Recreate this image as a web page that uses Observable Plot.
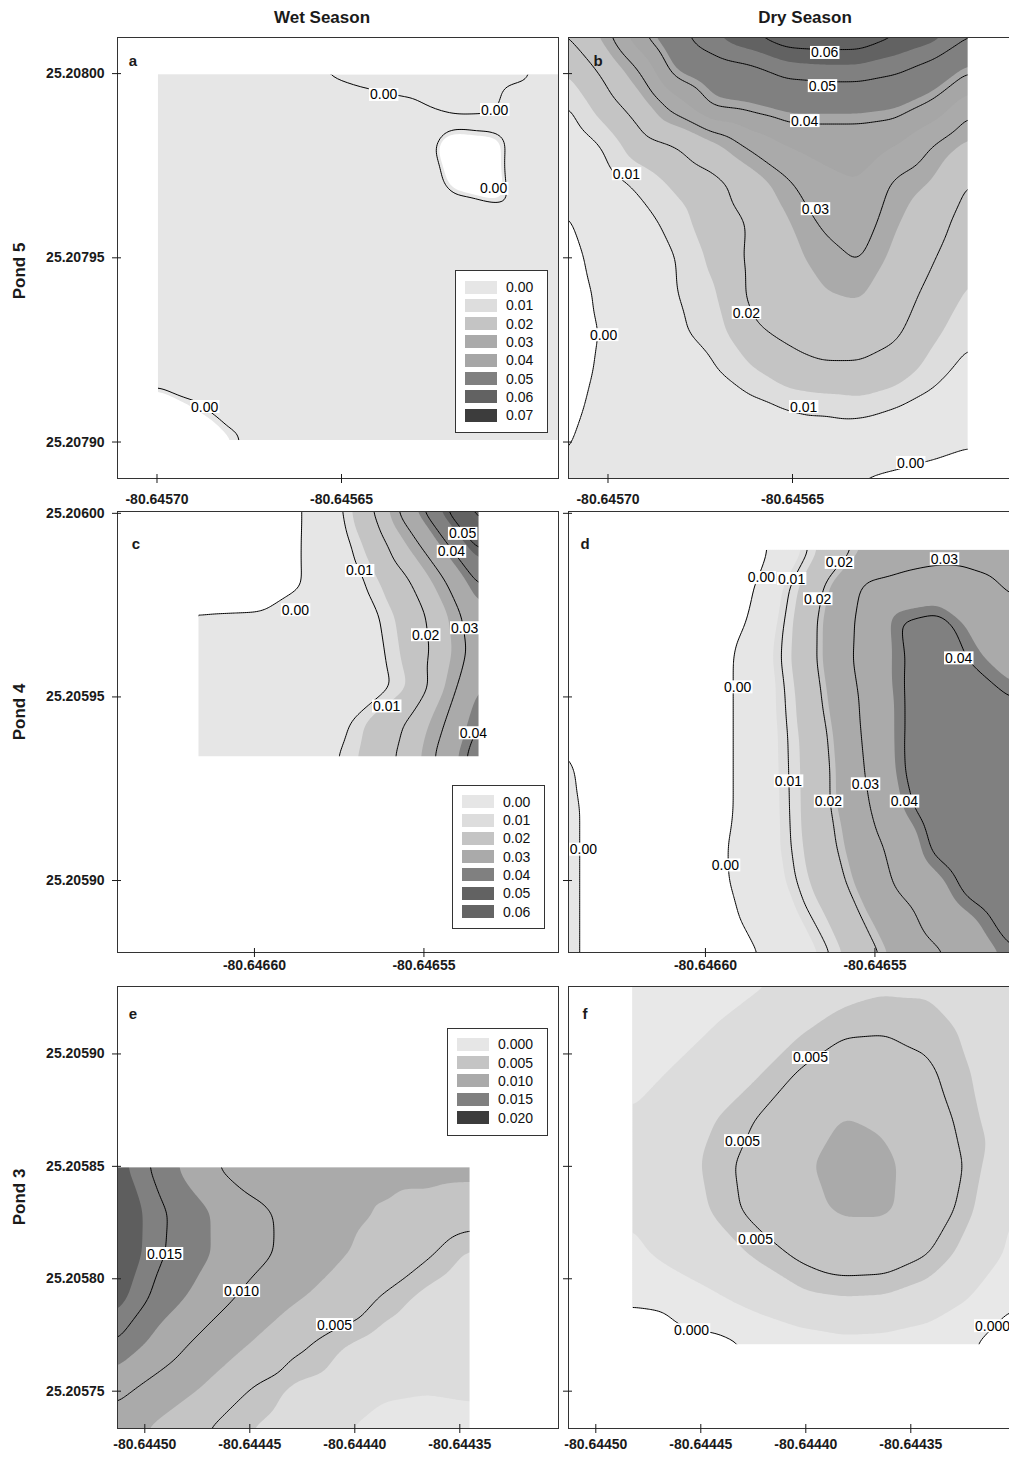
<!DOCTYPE html>
<html><head><meta charset="utf-8">
<script src="https://cdn.jsdelivr.net/npm/d3@7"></script>
<script src="https://cdn.jsdelivr.net/npm/@observablehq/plot@0.6"></script>
<style>
html,body{margin:0;padding:0;background:#fff;overflow:hidden}
#page{position:relative;width:1009px;height:1458px;font-family:"Liberation Sans",Arial,sans-serif;color:#1a1a1a;overflow:hidden}
.abs{position:absolute}
.title{font-weight:bold;font-size:17px;transform:translate(-50%,-50%);white-space:nowrap}
.rowlab{font-weight:bold;font-size:17px;transform:translate(-50%,-50%) rotate(-90deg);white-space:nowrap}
.letter{font-weight:bold;font-size:15px;transform:translate(-50%,-50%)}
.legend{border:1px solid #333;background:#fff;box-sizing:border-box}
.legend .row{position:absolute;left:0;display:flex;align-items:center;height:18px}
.sw{width:32px;height:13px;margin-left:9px}
.lt{margin-left:9px;font-size:14px;color:#111}
</style></head>
<body><div id="page"></div>
<script>
// ---------- axis domains & ticks (per pond row) ----------
const pond5XDomain = [-80.6457107, -80.6455912];
const pond5YDomain = [25.2078901, 25.2080098];
const pond5XTicks = [-80.64570, -80.64565];
const pond5YTicks = [25.20790, 25.20795, 25.20800];

const pond4XDomain = [-80.6466404, -80.6465103];
const pond4YDomain = [25.2058804, 25.2060005];
const pond4XTicks = [-80.64660, -80.64655];
const pond4YTicks = [25.20590, 25.20595, 25.20600];

const pond3XDomain = [-80.644513, -80.644303];
const pond3YDomain = [25.2057334, 25.20593];
const pond3XTicks = [-80.64450, -80.64445, -80.64440, -80.64435];
const pond3YTicks = [25.20575, 25.20580, 25.20585, 25.20590];

// ---------- legend levels & greys ----------
const legend5Levels = [0.00, 0.01, 0.02, 0.03, 0.04, 0.05, 0.06, 0.07];
const legend5Colors = ["#e6e6e6", "#dddddd", "#c4c4c4", "#aaaaaa", "#a6a6a6", "#808080", "#626262", "#3c3c3c"];
const legend4Levels = [0.00, 0.01, 0.02, 0.03, 0.04, 0.05, 0.06];
const legend4Colors = ["#e6e6e6", "#dddddd", "#c4c4c4", "#aaaaaa", "#808080", "#626262", "#646464"];
const legend3Levels = [0.000, 0.005, 0.010, 0.015, 0.020];
const legend3Colors = ["#e6e6e6", "#c4c4c4", "#aaaaaa", "#808080", "#3c3c3c"];

// ---------- Pond 5, wet season (a) ----------
const wet5GridX = [-80.64570, -80.64559];
const wet5GridY = [25.20800, 25.20790];
const wet5Grid = [
  [0.004, 0.004, 0.0035, 0.003, 0.0012, 0.0006, 0.0003, 0.0002, 0.0002, 0.0002, 0.0006, 0.003],
  [0.004, 0.004, 0.004, 0.0035, 0.003, 0.0025, 0.0018, 0.0014, 0.0004, 0.0005, 0.0025, 0.0035],
  [0.004, 0.004, 0.004, 0.004, 0.0045, 0.005, 0.006, 0.007, -0.005, -0.003, 0.006, 0.004],
  [0.004, 0.004, 0.004, 0.004, 0.0045, 0.005, 0.006, 0.007, -0.001, -0.004, 0.007, 0.004],
  [0.004, 0.004, 0.004, 0.004, 0.004, 0.0045, 0.005, 0.006, 0.006, 0.006, 0.005, 0.004],
  [0.004, 0.0045, 0.0045, 0.0045, 0.0045, 0.004, 0.004, 0.004, 0.0045, 0.0045, 0.004, 0.0035],
  [0.0045, 0.0045, 0.005, 0.005, 0.0045, 0.0045, 0.004, 0.004, 0.004, 0.004, 0.004, 0.004],
  [0.005, 0.005, 0.0045, 0.005, 0.005, 0.0045, 0.0045, 0.004, 0.004, 0.004, 0.004, 0.004],
  [0.0056, 0.005, 0.0045, 0.0045, 0.005, 0.005, 0.0045, 0.0045, 0.004, 0.004, 0.004, 0.004],
  [-0.004, 0.0005, 0.004, 0.0045, 0.0045, 0.005, 0.005, 0.0045, 0.0045, 0.004, 0.004, 0.004],
  [-0.008, -0.005, -0.0003, 0.005, 0.0045, 0.0045, 0.005, 0.005, 0.0045, 0.0045, 0.004, 0.004]
];
const wet5Extra = [
  [-80.6456232, 25.2079852, 0.003], [-80.6456164, 25.2079852, 0.0025],
  [-80.6456096, 25.2079852, 0.0025], [-80.6456028, 25.2079852, 0.0035],
  [-80.6456150, 25.2079752, -0.008]
];
const wet5FillLevels = [0, 0.01, 0.014, 0.0265, 0.035, 0.042, 0.055, 0.07];
const wet5LineLevels = [0.001];
const wet5Labels = [
  [-80.6456386, 25.2079942, "0.00"], [-80.6456085, 25.2079901, "0.00"],
  [-80.6456088, 25.2079687, "0.00"], [-80.6456871, 25.2079095, "0.00"]
];

// ---------- Pond 5, dry season (b) ----------
const dry5GridX = [-80.6457115, -80.645602];
const dry5GridY = [25.208011, 25.207889];
const dry5Grid = [
  [0.020, 0.028, 0.039, 0.048, 0.055, 0.060, 0.065, 0.0655, 0.0655, 0.061, 0.058, 0.051],
  [0.014, 0.021, 0.030, 0.042, 0.046, 0.048, 0.052, 0.053, 0.053, 0.051, 0.047, 0.040],
  [0.0091, 0.016, 0.023, 0.032, 0.040, 0.041, 0.043, 0.043, 0.043, 0.042, 0.038, 0.031],
  [0.0056, 0.0102, 0.017, 0.020, 0.025, 0.031, 0.035, 0.036, 0.036, 0.035, 0.030, 0.025],
  [0.0023, 0.0075, 0.011, 0.015, 0.018, 0.023, 0.029, 0.034, 0.035, 0.029, 0.026, 0.0195],
  [-0.001, 0.005, 0.008, 0.012, 0.017, 0.0205, 0.026, 0.031, 0.033, 0.027, 0.023, 0.017],
  [-0.003, 0.003, 0.006, 0.010, 0.015, 0.021, 0.025, 0.028, 0.0305, 0.025, 0.0205, 0.015],
  [-0.004, 0.0015, 0.005, 0.0098, 0.013, 0.021, 0.023, 0.026, 0.027, 0.023, 0.018, 0.013],
  [-0.004, 0.0005, 0.004, 0.0095, 0.011, 0.019, 0.021, 0.023, 0.023, 0.021, 0.015, 0.011],
  [-0.003, 0.001, 0.004, 0.007, 0.0095, 0.013, 0.0175, 0.019, 0.019, 0.017, 0.012, 0.008],
  [-0.002, 0.002, 0.004, 0.006, 0.007, 0.0085, 0.010, 0.011, 0.012, 0.010, 0.008, 0.004],
  [-0.0006, 0.003, 0.004, 0.005, 0.005, 0.006, 0.007, 0.006, 0.005, 0.004, 0.002, 0.0003],
  [0.001, 0.004, 0.004, 0.004, 0.004, 0.004, 0.005, 0.002, -0.0005, -0.002, -0.003, -0.004]
];
const dry5FillLevels = [0, 0.01, 0.014, 0.0265, 0.035, 0.042, 0.055, 0.07];
const dry5LineLevels = [0, 0.01, 0.02, 0.03, 0.04, 0.05, 0.06];
const dry5Labels = [
  [-80.6456413, 25.2080056, "0.06"], [-80.6456419, 25.2079966, "0.05"],
  [-80.6456467, 25.2079871, "0.04"], [-80.6456950, 25.2079727, "0.01"],
  [-80.6456438, 25.2079632, "0.03"], [-80.6456625, 25.2079350, "0.02"],
  [-80.6457012, 25.2079290, "0.00"], [-80.6456470, 25.2079095, "0.01"],
  [-80.6456180, 25.2078943, "0.00"]
];

// ---------- Pond 4, wet season (c) ----------
const wet4GridX = [-80.6466168, -80.6465333];
const wet4GridY = [25.2060015, 25.2059333];
const wet4Grid = [
  [-0.004, -0.003, -0.002, -0.0003, 0.009, 0.0205, 0.035, 0.050, 0.065],
  [-0.004, -0.003, -0.0015, -0.0002, 0.007, 0.016, 0.027, 0.039, 0.053],
  [-0.004, -0.003, -0.0015, -0.0002, 0.005, 0.012, 0.020, 0.030, 0.042],
  [0.0002, 0.0003, 0.0004, 0.001, 0.004, 0.009, 0.016, 0.025, 0.036],
  [0.001, 0.0015, 0.002, 0.0025, 0.004, 0.008, 0.015, 0.024, 0.034],
  [0.001, 0.0015, 0.002, 0.003, 0.005, 0.007, 0.013, 0.026, 0.038],
  [0.001, 0.002, 0.003, 0.005, 0.008, 0.015, 0.021, 0.030, 0.041],
  [0.002, 0.003, 0.005, 0.007, 0.010, 0.016, 0.023, 0.033, 0.045]
];
const wet4FillLevels = [0, 0.01, 0.013, 0.026, 0.037, 0.047, 0.058];
const wet4LineLevels = [0, 0.01, 0.02, 0.03, 0.04, 0.05, 0.06];
const wet4Labels = [
  [-80.6465386, 25.2059944, "0.05"], [-80.6465419, 25.2059895, "0.04"],
  [-80.6465690, 25.2059843, "0.01"], [-80.6465879, 25.2059736, "0.00"],
  [-80.6465495, 25.2059668, "0.02"], [-80.6465380, 25.2059687, "0.03"],
  [-80.6465610, 25.2059474, "0.01"], [-80.6465354, 25.2059401, "0.04"]
];

// ---------- Pond 4, dry season (d) ----------
const dry4GridX = [-80.6466415, -80.646509];
const dry4GridY = [25.2059903, 25.2058795];
const dry4Grid = [
  [-0.003, -0.006, -0.007, -0.006, -0.004, -0.003, 0.004, 0.015, 0.022, 0.025, 0.027, 0.027, 0.026],
  [-0.003, -0.006, -0.007, -0.006, -0.004, -0.001, 0.0098, 0.021, 0.031, 0.033, 0.034, 0.032, 0.029],
  [-0.003, -0.006, -0.007, -0.006, -0.004, 0.0007, 0.0115, 0.023, 0.0325, 0.0405, 0.042, 0.036, 0.032],
  [-0.003, -0.006, -0.007, -0.006, -0.003, 0.003, 0.012, 0.023, 0.033, 0.0398, 0.043, 0.039, 0.035],
  [-0.003, -0.006, -0.007, -0.006, -0.003, 0.003, 0.0108, 0.0215, 0.0315, 0.0398, 0.044, 0.043, 0.0395],
  [-0.001, -0.006, -0.007, -0.006, -0.003, 0.003, 0.0102, 0.0198, 0.031, 0.0398, 0.044, 0.045, 0.045],
  [0.0015, -0.004, -0.007, -0.006, -0.003, 0.003, 0.010, 0.019, 0.030, 0.0396, 0.045, 0.046, 0.046],
  [0.002, -0.003, -0.006, -0.006, -0.003, 0.003, 0.0098, 0.019, 0.0285, 0.038, 0.044, 0.046, 0.046],
  [0.002, -0.003, -0.006, -0.006, -0.002, 0.0035, 0.0095, 0.018, 0.026, 0.034, 0.042, 0.046, 0.046],
  [0.002, -0.003, -0.006, -0.006, -0.002, 0.003, 0.0085, 0.016, 0.024, 0.032, 0.037, 0.043, 0.046],
  [0.002, -0.003, -0.006, -0.006, -0.003, 0.0015, 0.006, 0.0125, 0.0205, 0.027, 0.034, 0.038, 0.043],
  [0.002, -0.003, -0.006, -0.006, -0.004, -0.001, 0.004, 0.009, 0.017, 0.024, 0.029, 0.035, 0.0395]
];
const dry4FillLevels = [0, 0.008, 0.0126, 0.0217, 0.038];
const dry4FillColors = ["#e6e6e6", "#dddddd", "#c4c4c4", "#aaaaaa", "#808080"];
const dry4LineLevels = [0, 0.01, 0.02, 0.03, 0.04];
const dry4Labels = [
  [-80.6465605, 25.2059865, "0.02"], [-80.6465295, 25.2059875, "0.03"],
  [-80.6465835, 25.2059824, "0.00"], [-80.6465746, 25.2059821, "0.01"],
  [-80.6465669, 25.2059766, "0.02"], [-80.6465253, 25.2059605, "0.04"],
  [-80.6465905, 25.2059526, "0.00"], [-80.6465755, 25.2059270, "0.01"],
  [-80.6465528, 25.2059262, "0.03"], [-80.6465637, 25.2059215, "0.02"],
  [-80.6465413, 25.2059215, "0.04"], [-80.6466360, 25.2059084, "0.00"],
  [-80.6465941, 25.2059041, "0.00"]
];

// ---------- Pond 3, wet season (e) ----------
const wet3GridX = [-80.6445145, -80.6443444];
const wet3GridY = [25.20585, 25.205732];
const wet3Grid = [
  [0.019, 0.0138, 0.0106, 0.0085, 0.0074, 0.0076, 0.0082, 0.0084, 0.0083],
  [0.021, 0.0155, 0.0128, 0.0108, 0.0093, 0.0082, 0.0074, 0.0067, 0.0060],
  [0.021, 0.0153, 0.0128, 0.011, 0.0092, 0.0078, 0.0066, 0.0052, 0.0037],
  [0.019, 0.0138, 0.0115, 0.0093, 0.0078, 0.0065, 0.0048, 0.0035, 0.0025],
  [0.015, 0.0115, 0.0093, 0.0076, 0.0055, 0.0042, 0.0033, 0.0025, 0.0024],
  [0.0108, 0.0092, 0.0074, 0.005, 0.0038, 0.0033, 0.0022, 0.0021, 0.0022],
  [0.0088, 0.0068, 0.005, 0.004, 0.0032, 0.0021, 0.0016, 0.0015, 0.0016]
];
const wet3FillLevels = [-1, 0.002, 0.004, 0.0075, 0.0125, 0.0175];
const wet3FillColors = ["#e6e6e6", "#dcdcdc", "#c4c4c4", "#aaaaaa", "#808080", "#5e5e5e"];
const wet3LineLevels = [0.005, 0.010, 0.015];
const wet3Labels = [
  [-80.6444906, 25.2058110, "0.015"], [-80.6444540, 25.2057945, "0.010"],
  [-80.6444097, 25.2057794, "0.005"]
];

// ---------- Pond 3, dry season (f) ----------
const dry3GridX = [-80.6444829, -80.6443015];
const dry3GridY = [25.2059315, 25.20577];
const dry3Grid = [
  [-0.0001, 0.0006, 0.0012, 0.0018, 0.0024, 0.0032, 0.0037, 0.0037, 0.0031, 0.0025],
  [0.0004, 0.0012, 0.0021, 0.003, 0.0038, 0.0047, 0.0048, 0.0046, 0.0037, 0.003],
  [0.0013, 0.0022, 0.0031, 0.0039, 0.0052, 0.0061, 0.0062, 0.0053, 0.004, 0.0031],
  [0.0022, 0.0031, 0.004, 0.0051, 0.0064, 0.0076, 0.0072, 0.006, 0.0043, 0.003],
  [0.0025, 0.0033, 0.0044, 0.0058, 0.0072, 0.0082, 0.0079, 0.0064, 0.0047, 0.0022],
  [0.0022, 0.003, 0.0042, 0.0056, 0.0069, 0.0078, 0.0078, 0.0063, 0.0042, 0.0019],
  [0.0016, 0.0025, 0.0033, 0.0042, 0.0053, 0.006, 0.0059, 0.005, 0.0033, 0.0016],
  [0.0005, 0.0009, 0.0017, 0.0027, 0.0035, 0.0038, 0.0037, 0.0031, 0.0019, 0.0002],
  [-0.003, -0.001, -0.0007, 0.0002, 0.001, 0.0014, 0.0013, 0.0009, 0.0001, -0.0012]
];
const dry3FillLevels = [0, 0.002, 0.004, 0.0075];
const dry3FillColors = ["#e8e8e8", "#dcdcdc", "#c4c4c4", "#aaaaaa"];
const dry3LineLevels = [0, 0.005];
const dry3Labels = [
  [-80.6443978, 25.2058982, "0.005"], [-80.6444301, 25.2058612, "0.005"],
  [-80.6444240, 25.2058176, "0.005"], [-80.6444544, 25.2057771, "0.000"],
  [-80.6443111, 25.2057789, "0.000"]
];

// ---------- layout ----------
const FONT = '"Liberation Sans", Arial, sans-serif';
const page = document.getElementById("page");

function samplesFrom(gx, gy, grid, extra) {
  const ny = grid.length, nx = grid[0].length, out = [];
  for (let j = 0; j < ny; ++j)
    for (let i = 0; i < nx; ++i)
      out.push({x: gx[0] + (gx[1] - gx[0]) * i / (nx - 1), y: gy[0] + (gy[1] - gy[0]) * j / (ny - 1), v: grid[j][i]});
  for (const [x, y, v] of (extra || [])) out.push({x, y, v});
  return out;
}

// white covers for the parts of the frame that hold no survey data
function masksFor(xDom, yDom, bx0, bx1, by0, by1) {
  const W = xDom[1] - xDom[0], H = yDom[1] - yDom[0];
  const ix = W / 441 * 1.5, iy = H / 441 * 1.5;
  const X0 = xDom[0] - W, X1 = xDom[1] + W, Y0 = yDom[0] - H, Y1 = yDom[1] + H;
  const m = [];
  if (bx0 > xDom[0]) m.push({x1: X0, x2: bx0 + ix, y1: Y0, y2: Y1});
  if (bx1 < xDom[1]) m.push({x1: bx1 - ix, x2: X1, y1: Y0, y2: Y1});
  if (by0 > yDom[0]) m.push({x1: X0, x2: X1, y1: Y0, y2: by0 + iy});
  if (by1 < yDom[1]) m.push({x1: X0, x2: X1, y1: by1 - iy, y2: Y1});
  return m;
}

const panels = [
  {letter: "a", col: 0, top: 37, h: 441, xDom: pond5XDomain, yDom: pond5YDomain, xTicks: pond5XTicks, yTicks: pond5YTicks, xPad: 11,
   gx: wet5GridX, gy: wet5GridY, grid: wet5Grid, extra: wet5Extra, fillT: wet5FillLevels, fillC: legend5Colors, lineT: wet5LineLevels, labels: wet5Labels, lpos: [133, 60]},
  {letter: "b", col: 1, top: 37, h: 441, xDom: pond5XDomain, yDom: pond5YDomain, xTicks: pond5XTicks, yTicks: pond5YTicks, xPad: 11,
   gx: dry5GridX, gy: dry5GridY, grid: dry5Grid, extra: [], fillT: dry5FillLevels, fillC: legend5Colors, lineT: dry5LineLevels, labels: dry5Labels, lpos: [598, 60]},
  {letter: "c", col: 0, top: 511, h: 441, xDom: pond4XDomain, yDom: pond4YDomain, xTicks: pond4XTicks, yTicks: pond4YTicks, xPad: 3,
   gx: wet4GridX, gy: wet4GridY, grid: wet4Grid, extra: [], fillT: wet4FillLevels, fillC: legend4Colors, lineT: wet4LineLevels, labels: wet4Labels, lpos: [136, 543]},
  {letter: "d", col: 1, top: 511, h: 441, xDom: pond4XDomain, yDom: pond4YDomain, xTicks: pond4XTicks, yTicks: pond4YTicks, xPad: 3,
   gx: dry4GridX, gy: dry4GridY, grid: dry4Grid, extra: [], fillT: dry4FillLevels, fillC: dry4FillColors, lineT: dry4LineLevels, labels: dry4Labels, lpos: [585, 543]},
  {letter: "e", col: 0, top: 986, h: 442, xDom: pond3XDomain, yDom: pond3YDomain, xTicks: pond3XTicks, yTicks: pond3YTicks, xPad: 6,
   gx: wet3GridX, gy: wet3GridY, grid: wet3Grid, extra: [], fillT: wet3FillLevels, fillC: wet3FillColors, lineT: wet3LineLevels, labels: wet3Labels, lpos: [133, 1013]},
  {letter: "f", col: 1, top: 986, h: 442, xDom: pond3XDomain, yDom: pond3YDomain, xTicks: pond3XTicks, yTicks: pond3YTicks, xPad: 6,
   gx: dry3GridX, gy: dry3GridY, grid: dry3Grid, extra: [], fillT: dry3FillLevels, fillC: dry3FillColors, lineT: dry3LineLevels, labels: dry3Labels, lpos: [585, 1013]}
];

function boxLabels(svg) {
  svg.querySelectorAll('g[aria-label="text"] text').forEach(t => {
    const b = t.getBBox();
    const r = document.createElementNS("http://www.w3.org/2000/svg", "rect");
    r.setAttribute("x", b.x - 1);
    r.setAttribute("y", b.y + 1.5);
    r.setAttribute("width", b.width + 2);
    r.setAttribute("height", Math.max(0, b.height - 3));
    r.setAttribute("fill", "white");
    r.setAttribute("stroke", "none");
    const tr = t.getAttribute("transform");
    if (tr) r.setAttribute("transform", tr);
    t.parentNode.insertBefore(r, t);
  });
}

for (const p of panels) {
  const frameLeft = p.col === 0 ? 117 : 568;
  const mL = p.col === 0 ? 117 : 10, mR = 1, mT = 2, mB = 36;
  const samples = samplesFrom(p.gx, p.gy, p.grid, p.extra);
  const bx0 = Math.min(...p.gx), bx1 = Math.max(...p.gx), by0 = Math.min(...p.gy), by1 = Math.max(...p.gy);
  const masks = masksFor(p.xDom, p.yDom, bx0, bx1, by0, by1);
  const fmt = d => d.toFixed(5);
  const common = {x: "x", y: "y", interpolate: "barycentric", pixelSize: 2, blur: 3, x1: bx0, x2: bx1, y1: by0, y2: by1, clip: true};
  const svg = Plot.plot({
    width: mL + 441 + mR, height: mT + p.h + mB,
    marginLeft: mL, marginRight: mR, marginTop: mT, marginBottom: mB,
    style: {background: "transparent", overflow: "visible", fontFamily: FONT, fontSize: "14px", fontWeight: "bold", color: "#1a1a1a"},
    x: {domain: p.xDom, label: null},
    y: {domain: p.yDom, label: null},
    color: {type: "ordinal", domain: p.fillT, range: p.fillC},
    marks: [
      Plot.contour(samples, {...common, fill: "v", thresholds: p.fillT, stroke: "none"}),
      Plot.contour(samples, {...common, value: "v", thresholds: p.lineT, fill: "none", stroke: "#000", strokeWidth: 1}),
      Plot.rect(masks, {x1: "x1", x2: "x2", y1: "y1", y2: "y2", fill: "white", clip: true}),
      Plot.text(p.labels, {x: d => d[0], y: d => d[1], text: d => d[2], fontSize: 14, fontWeight: "normal", fill: "#000"}),
      Plot.frame({stroke: "#333"}),
      Plot.axisX(p.xTicks, {tickSize: 9, dy: -4, tickPadding: p.xPad, tickFormat: fmt, label: null, fontSize: 14}),
      Plot.axisY(p.yTicks, {tickSize: 9, dx: 4, tickPadding: 8, tickFormat: p.col === 0 ? fmt : () => "", label: null, fontSize: 14})
    ]
  });
  const holder = document.createElement("div");
  holder.className = "abs";
  holder.style.left = (frameLeft - mL) + "px";
  holder.style.top = (p.top - mT) + "px";
  holder.style.width = (mL + 441 + mR) + "px";
  holder.style.height = (mT + p.h + mB) + "px";
  holder.appendChild(svg);
  page.appendChild(holder);
  boxLabels(svg);

  const L = document.createElement("div");
  L.className = "abs letter";
  L.style.left = p.lpos[0] + "px";
  L.style.top = p.lpos[1] + "px";
  L.textContent = p.letter;
  page.appendChild(L);
}

// titles and row labels
function addText(cls, txt, x, y) {
  const d = document.createElement("div");
  d.className = "abs " + cls;
  d.style.left = x + "px"; d.style.top = y + "px";
  d.textContent = txt;
  page.appendChild(d);
}
addText("title", "Wet Season", 322, 18);
addText("title", "Dry Season", 805, 18);
addText("rowlab", "Pond 5", 20, 271);
addText("rowlab", "Pond 4", 20, 712);
addText("rowlab", "Pond 3", 20, 1197);

// legends
function addLegend(levels, colors, digits, left, top, width, height, firstCenter) {
  const box = document.createElement("div");
  box.className = "abs legend";
  Object.assign(box.style, {left: left + "px", top: top + "px", width: width + "px", height: height + "px"});
  levels.forEach((lv, i) => {
    const row = document.createElement("div");
    row.className = "row";
    row.style.top = (firstCenter - 9 + i * 18.3 - 1) + "px";
    const sw = document.createElement("span");
    sw.className = "sw"; sw.style.background = colors[i];
    const t = document.createElement("span");
    t.className = "lt"; t.textContent = lv.toFixed(digits);
    row.appendChild(sw); row.appendChild(t);
    box.appendChild(row);
  });
  page.appendChild(box);
}
addLegend(legend5Levels, legend5Colors, 2, 455, 270, 93, 163, 17);
addLegend(legend4Levels, legend4Colors, 2, 452, 785, 93, 144, 16.7);
addLegend(legend3Levels, legend3Colors, 3, 447, 1028, 101, 108, 16.3);
</script></body></html>
